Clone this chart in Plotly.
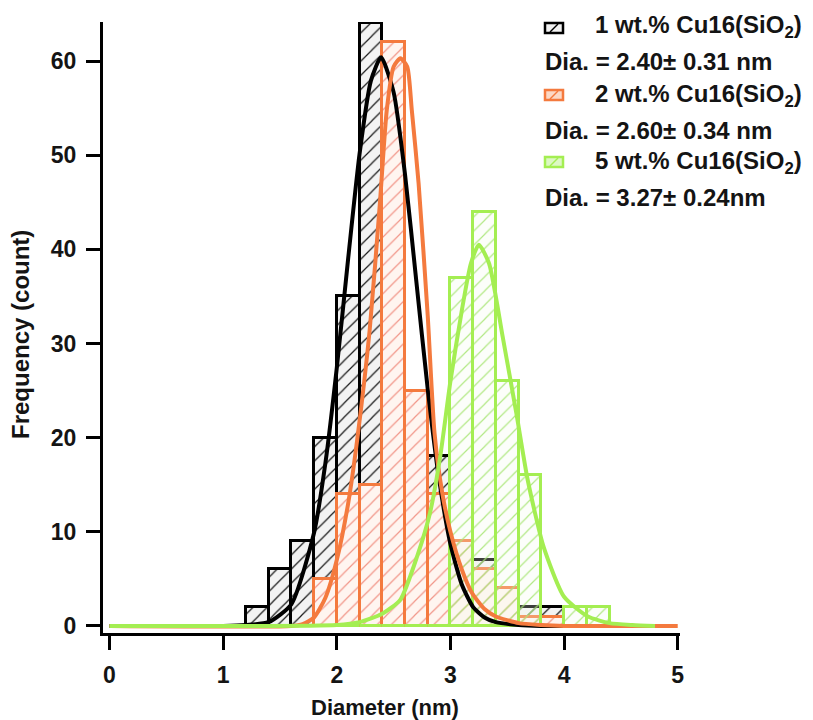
import plotly.graph_objects as go

# ---------------- data ----------------
bin_centers = [1.3, 1.5, 1.7, 1.9, 2.1, 2.3, 2.5, 2.7, 2.9, 3.1, 3.3, 3.5, 3.7, 3.9, 4.1, 4.3]
count_1wt = [2, 6, 9, 20, 35, 64, 50, 24, 18, 8, 7, 2, 2, 2, 0, 0]
count_2wt = [0, 0, 0, 5, 14, 15, 62, 25, 14, 9, 6, 4, 1, 1, 0, 0]
count_5wt = [0, 0, 0, 0, 0, 0, 0, 0, 0, 37, 44, 26, 16, 0, 2, 2]
bin_width = 0.2

fit_1wt_x = [0, 1.0, 1.2, 1.4, 1.6, 1.8, 1.9, 2.0, 2.1, 2.2, 2.3, 2.39, 2.5, 2.6, 2.7, 2.8, 2.9, 3.0, 3.1, 3.2, 3.3, 3.4, 3.6, 3.8, 4.8]
fit_1wt_y = [0, 0, 0.1, 0.4, 2.3, 9.9, 17.3, 27.4, 39.0, 50.1, 57.9, 60.4, 56.7, 48.0, 36.6, 25.2, 15.6, 8.7, 4.4, 2.0, 0.9, 0.4, 0.1, 0, 0]

fit_2wt_x = [0, 1.6, 1.7, 1.8, 1.9, 2.0, 2.1, 2.18, 2.29, 2.38, 2.44, 2.50, 2.56, 2.62, 2.66, 2.72, 2.80, 2.86, 2.93, 3.0, 3.1, 3.19, 3.3, 3.4, 3.6, 3.8, 4.0, 5.0]
fit_2wt_y = [0, 0, 0.2, 0.9, 3.0, 7.0, 13.0, 19.8, 31.5, 45.0, 54.8, 59.4, 60.3, 59.4, 54.8, 47.0, 33.0, 20.5, 14.0, 10.0, 6.0, 3.5, 1.8, 1.0, 0.3, 0.1, 0, 0]

fit_5wt_x = [0, 2.0, 2.2, 2.4, 2.56, 2.71, 2.82, 2.91, 3.0, 3.1, 3.18, 3.25, 3.34, 3.46, 3.58, 3.68, 3.82, 4.0, 4.21, 4.4, 4.6, 4.8]
fit_5wt_y = [0, 0.1, 0.4, 1.3, 2.8, 7.5, 12.0, 18.0, 26.0, 33.5, 38.5, 40.5, 38.5, 30.7, 22.6, 15.5, 8.4, 3.1, 1.0, 0.3, 0.1, 0]

series_names = ["1 wt.% Cu16(SiO<sub>2</sub>)", "2 wt.% Cu16(SiO<sub>2</sub>)", "5 wt.% Cu16(SiO<sub>2</sub>)"]
dia_labels = ["Dia. = 2.40± 0.31 nm", "Dia. = 2.60± 0.34 nm", "Dia. = 3.27± 0.24nm"]
x_title = "Diameter (nm)"
y_title = "Frequency (count)"

x_ticks = [0, 1, 2, 3, 4, 5]
y_ticks = [0, 10, 20, 30, 40, 50, 60]

# ---------------- styles ----------------
BLACK = "#000000"
ORANGE = "#F47A3E"
GREEN = "#A4EE52"
TXT = "#141414"
FONT = "Liberation Sans"

fig = go.Figure()

bar_styles = [
    (count_1wt, BLACK, "#F3F3F3", "rgba(0,0,0,0.9)"),
    (count_2wt, ORANGE, "#FFF5F0", "rgba(238,125,110,0.8)"),
    (count_5wt, GREEN, "rgba(244,253,236,0.25)", "rgba(170,230,120,0.9)"),
]
for counts, edge, bg, hatch in bar_styles:
    fig.add_trace(go.Bar(
        x=bin_centers, y=counts, width=bin_width,
        marker=dict(
            color=bg,
            line=dict(color=edge, width=3),
            pattern=dict(shape="/", size=10, solidity=0.12, fgcolor=hatch, bgcolor=bg, fillmode="replace"),
        ),
        showlegend=False, hoverinfo="skip",
    ))

for xs, ys, col in [(fit_1wt_x, fit_1wt_y, BLACK), (fit_2wt_x, fit_2wt_y, ORANGE), (fit_5wt_x, fit_5wt_y, GREEN)]:
    fig.add_trace(go.Scatter(
        x=xs, y=ys, mode="lines",
        line=dict(color=col, width=4, shape="spline", smoothing=0.6),
        showlegend=False, hoverinfo="skip",
    ))

# plot-area pixel frame (for placing the custom legend / titles)
L, R, T, B = 103, 680, 22, 633
W, H = 813, 720


def px(x, y):
    return (x - L) / (R - L), (B - y) / (B - T)


legend_rows = [
    (BLACK, "#F2F2F2", 23, 27, 62),
    (ORANGE, "#FCD9C6", 90, 95, 130),
    (GREEN, "#DDF8C4", 157, 162, 197),
]
for i, (edge, fill, sw_top, name_y, dia_y) in enumerate(legend_rows):
    x0, y0 = px(545, sw_top + 10)
    x1, y1 = px(563, sw_top)
    fig.add_shape(type="rect", xref="paper", yref="paper", x0=x0, y0=y0, x1=x1, y1=y1,
                  line=dict(color=edge, width=2.5), fillcolor=fill)
    a0, b0 = px(550, sw_top + 9)
    a1, b1 = px(558, sw_top + 1)
    fig.add_shape(type="line", xref="paper", yref="paper", x0=a0, y0=b0, x1=a1, y1=b1,
                  line=dict(color=edge, width=1.5))
    tx, ty = px(593, name_y)
    fig.add_annotation(xref="paper", yref="paper", x=tx, y=ty, xanchor="left", yanchor="middle",
                       text="<b>" + series_names[i] + "</b>", showarrow=False,
                       font=dict(family=FONT, size=24, color=TXT))
    dx, dy = px(543, dia_y)
    fig.add_annotation(xref="paper", yref="paper", x=dx, y=dy, xanchor="left", yanchor="middle",
                       text="<b>" + dia_labels[i] + "</b>", showarrow=False,
                       font=dict(family=FONT, size=24, color=TXT))

# axis titles
ax, ay = px(385, 707)
fig.add_annotation(xref="paper", yref="paper", x=ax, y=ay, xanchor="center", yanchor="middle",
                   text="<b>" + x_title + "</b>", showarrow=False,
                   font=dict(family=FONT, size=22, color=TXT))
bx, by = px(21, 335)
fig.add_annotation(xref="paper", yref="paper", x=bx, y=by, xanchor="center", yanchor="middle",
                   text="<b>" + y_title + "</b>", showarrow=False, textangle=-90,
                   font=dict(family=FONT, size=24, color=TXT))

axis_common = dict(
    showline=True, linewidth=3, linecolor="black", mirror=False,
    ticks="outside", tickwidth=3, tickcolor="black", ticklen=14,
    showgrid=False, zeroline=False,
    tickfont=dict(family=FONT, size=23, color=TXT, weight="bold"),
)

fig.update_layout(
    width=W, height=H,
    margin=dict(l=L, r=W - R, t=T, b=H - B),
    paper_bgcolor="white", plot_bgcolor="white",
    barmode="overlay", bargap=0,
    showlegend=False,
    xaxis=dict(range=[-0.057, 5.02], tickvals=x_ticks, ticklabelstandoff=5, **axis_common),
    yaxis=dict(range=[-0.75, 64.15], tickvals=y_ticks, ticklabelstandoff=5, **axis_common),
)

fig.write_html("out.html")
